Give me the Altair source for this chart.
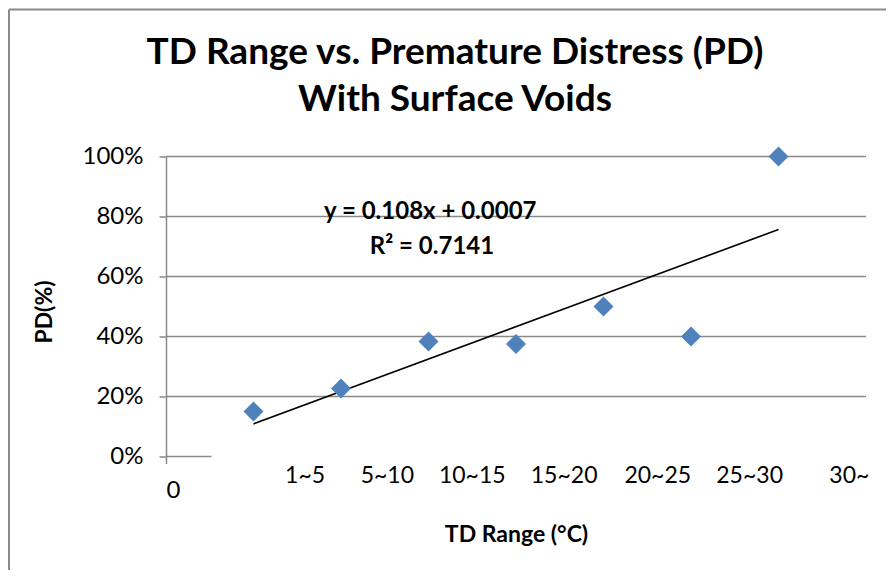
import altair as alt
import pandas as pd

# ---- data ----
td_index = [1, 2, 3, 4, 5, 6, 7]
pd_values = [0.15, 0.227, 0.383, 0.375, 0.50, 0.40, 1.00]
cat_labels = ["1~5", "5~10", "10~15", "15~20", "20~25", "25~30", "30~"]
cat_label_at = [1.59, 2.53, 3.50, 4.55, 5.62, 6.67, 7.81]
y_ticks = [0, 0.2, 0.4, 0.6, 0.8, 1.0]
grid_levels = [0.2, 0.4, 0.6, 0.8, 1.0]
slope = 0.108
intercept = 0.0007
trend_span = [1, 7]
eq_lines = ["y = 0.108x + 0.0007", "R² = 0.7141"]
eq_x = [3.02, 3.04]
eq_y = [0.815, 0.697]
title_lines = ["TD Range vs. Premature Distress (PD)", "With Surface Voids"]

GRAY = "#8a8a8a"
FONT = "Lato"

df_pts = pd.DataFrame({"x": td_index, "pd": pd_values})
df_trend = pd.DataFrame({"x": trend_span, "pd": [slope * v + intercept for v in trend_span]})
df_grid = pd.DataFrame({"pd": grid_levels})
df_cat = pd.DataFrame({"x": cat_label_at, "label": cat_labels})
df_eq = pd.DataFrame({"x": eq_x, "pd": eq_y, "label": eq_lines})
df_one = pd.DataFrame({"a": [0]})

xs = alt.Scale(domain=[0, 8], nice=False, zero=False)
ys = alt.Scale(domain=[0, 1], nice=False)

frame_left = alt.Chart(df_one).mark_rule(color=GRAY, strokeWidth=2).encode(
    x=alt.value(-157), y=alt.value(-147), y2=alt.value(600))
frame_top = alt.Chart(df_one).mark_rule(color=GRAY, strokeWidth=2).encode(
    x=alt.value(-157), x2=alt.value(900), y=alt.value(-147))

title1 = alt.Chart(df_one).mark_text(
    font=FONT, fontSize=37, fontWeight="bold", color="black",
    align="center", baseline="middle", text=title_lines[0]
).encode(x=alt.value(289), y=alt.value(-104))
title2 = alt.Chart(df_one).mark_text(
    font=FONT, fontSize=37, fontWeight="bold", color="black",
    align="center", baseline="middle", text=title_lines[1]
).encode(x=alt.value(289), y=alt.value(-57))

grid = alt.Chart(df_grid).mark_rule(color=GRAY, strokeWidth=1.5).encode(
    y=alt.Y("pd:Q", scale=ys))
zero_seg = alt.Chart(df_one).mark_rule(color=GRAY, strokeWidth=1.5).encode(
    x=alt.datum(0, scale=xs), x2=alt.datum(0.52), y=alt.datum(0, scale=ys))

trend = alt.Chart(df_trend).mark_line(color="black", strokeWidth=1.6).encode(
    x=alt.X("x:Q", scale=xs), y=alt.Y("pd:Q", scale=ys))

pts = alt.Chart(df_pts).mark_point(
    shape="diamond", filled=True, size=400, color="#4F81BD", opacity=1
).encode(
    x=alt.X("x:Q", scale=xs, axis=alt.Axis(
        values=[0], format="d", tickSize=7, tickColor=GRAY, tickWidth=1.5,
        domain=False, grid=False, labelFont=FONT, labelFontSize=24,
        labelColor="black", labelPadding=15,
        title="TD Range (°C)", titleFont=FONT, titleFontSize=23,
        titleFontWeight="bold", titleColor="black", titleY=77.5,
        titleBaseline="middle")),
    y=alt.Y("pd:Q", scale=ys, axis=alt.Axis(
        values=y_ticks, format=".0%", tickSize=7, tickColor=GRAY, tickWidth=1.5,
        domainColor=GRAY, domainWidth=1.5, grid=False, labelFont=FONT,
        labelFontSize=24, labelColor="black", labelPadding=16,
        title="PD(%)", titleFont=FONT, titleFontSize=23, titleFontWeight="bold",
        titleColor="black", titleX=-122, titleY=155, titleAngle=270,
        titleAlign="center", titleBaseline="middle")),
)

cats = alt.Chart(df_cat).mark_text(
    font=FONT, fontSize=23, color="black", baseline="middle", align="center"
).encode(x=alt.X("x:Q", scale=xs), y=alt.value(319), text="label:N")

eq = alt.Chart(df_eq).mark_text(
    font=FONT, fontSize=24, fontWeight="bold", color="black",
    baseline="middle", align="center"
).encode(x=alt.X("x:Q", scale=xs), y=alt.Y("pd:Q", scale=ys), text="label:N")

chart = alt.layer(
    frame_left, frame_top, title1, title2, grid, zero_seg, trend, pts, cats, eq
).properties(
    width=700, height=300,
    padding={"left": 158, "top": 148.5, "right": 20, "bottom": 113},
    autosize=alt.AutoSizeParams(type="none"),
).configure_view(stroke=None)

chart.save("out.html", embed_options={"renderer": "svg", "actions": False})
